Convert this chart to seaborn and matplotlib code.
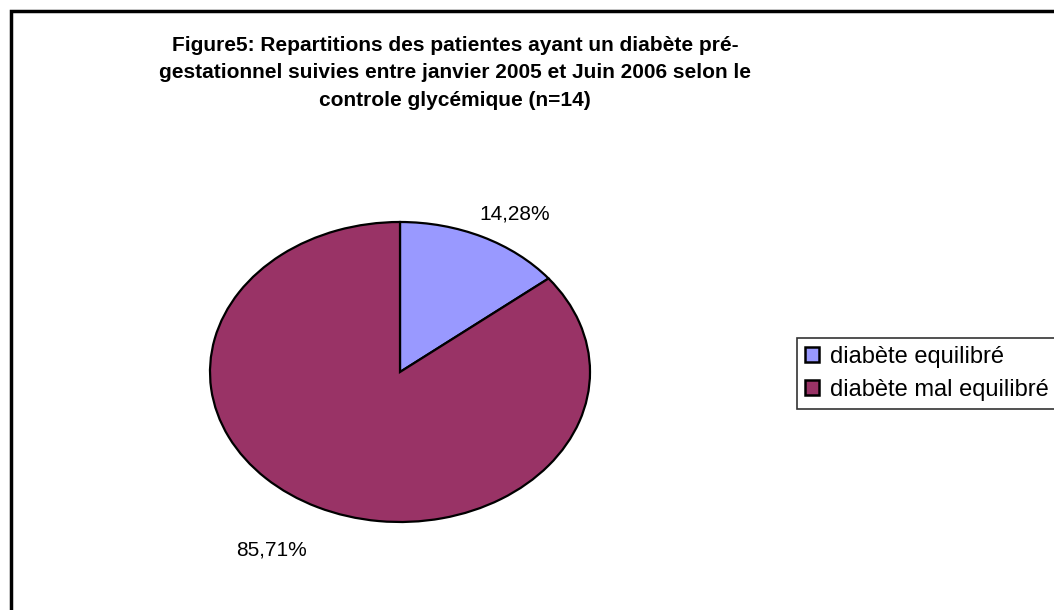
import matplotlib
matplotlib.use("Agg")
import matplotlib.pyplot as plt
from matplotlib.patches import Rectangle, Patch
import seaborn as sns

# ===========================
# DATA
# ===========================
categories = ["diabète equilibré", "diabète mal equilibré"]
counts = [2, 12]                      # n = 14
pct_labels = ["14,28%", "85,71%"]
colors = ["#9999FF", "#993366"]
title = ("Figure5: Repartitions des patientes ayant un diabète pré-\n"
         "gestationnel suivies entre janvier 2005 et Juin 2006 selon le\n"
         "controle glycémique (n=14)")

# ===========================
# STYLE
# ===========================
sns.set_theme(style="white")
plt.rcParams["font.family"] = ["Liberation Sans", "DejaVu Sans"]
plt.rcParams["text.color"] = "black"

W, H = 1054, 610
fig = plt.figure(figsize=(W / 100, H / 100), dpi=100)
fig.patch.set_facecolor("white")

# outer chart frame (runs off right and bottom edges)
fig.patches.append(Rectangle((11 / W, -0.2), 1.2, 1.2 - 11 / H,
                             transform=fig.transFigure, fill=False,
                             edgecolor="black", linewidth=2.5))

# ===========================
# PIE (elliptical, like Excel)
# ===========================
ax = fig.add_axes([210 / W, 88 / H, 380 / W, 300 / H])
wedges, _ = ax.pie(counts, colors=colors, startangle=90, counterclock=False,
                   wedgeprops=dict(edgecolor="black", linewidth=1.6))
ax.set_aspect("auto")
ax.set_xlim(-1, 1)
ax.set_ylim(-1, 1)
ax.axis("off")

label_pos = [(0.605, 1.05), (-0.675, -1.19)]
for txt, (x, y) in zip(pct_labels, label_pos):
    ax.text(x, y, txt, ha="center", va="center", fontsize=15, color="black",
            clip_on=False)

# ===========================
# TITLE + LEGEND
# ===========================
fig.text(455 / W, 1 - 73 / H, title, ha="center", va="center",
         fontsize=15, fontweight="bold", linespacing=1.57, color="black")

handles = [Patch(facecolor=c, edgecolor="black", linewidth=1.8) for c in colors]
leg = fig.legend(handles, categories, loc="upper left",
                 bbox_to_anchor=(797 / W, 1 - 338 / H),
                 frameon=True, fancybox=False, fontsize=17,
                 handlelength=0.6, handleheight=0.6, handletextpad=0.45,
                 borderpad=0.35, labelspacing=0.45, borderaxespad=0)
leg.get_frame().set_edgecolor("black")
leg.get_frame().set_linewidth(1.2)
for t in leg.get_texts():
    t.set_color("black")

fig.savefig("out.png", dpi=100, facecolor="white")
